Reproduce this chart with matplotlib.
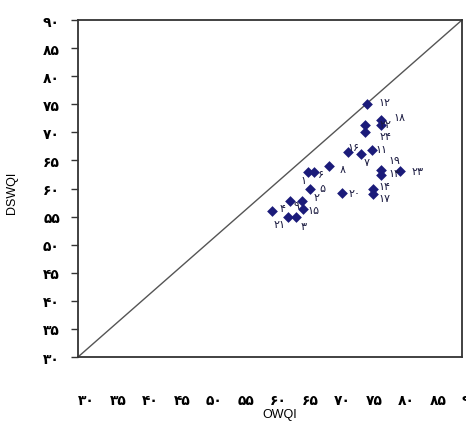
import matplotlib
matplotlib.use("Agg")
import matplotlib.pyplot as plt
import matplotlib.transforms as mtransforms

# Data (OWQI vs DSWQI)
station_labels = ["۱۲", "۱۸", "۲۲", "۲۴", "۱۶", "۷", "۱۱", "۸", "۱", "۶",
                  "۵", "۲", "۹", "۴", "۱۵", "۲۱", "۳", "۲۰", "۱۴", "۱۷",
                  "۱۹", "۱۳", "۲۳", ""]
owqi = [75.2, 77.3, 74.8, 74.8, 72.2, 74.2, 75.9, 69.2, 65.9, 66.9,
        66.2, 65.0, 63.1, 60.3, 65.2, 62.8, 64.1, 71.2, 76.1, 76.1,
        77.3, 77.3, 80.3, 77.3]
dswqi = [75.0, 72.2, 71.3, 70.1, 66.5, 66.1, 66.9, 64.0, 62.9, 62.9,
         59.9, 57.8, 57.8, 56.0, 56.4, 54.9, 54.9, 59.2, 59.9, 59.0,
         63.3, 62.4, 63.1, 71.3]
# label offsets in pixels (style only)
label_dx = [17, 19, 21, 21, 5, 6, 10, 14, -4, 7, 13, 15, 7, 11, 10, -8, 7, 13, 11, 11, 14, 14, 18, 0]
label_dy = [2, 3, 1, -4, 5, -8, 1, -3, -8, -2, 1, 4, -4, 3, -1, -7, -9, 0, 3, -4, 10, 2, 0, 0]

ticks = list(range(30, 95, 5))
fa_digits = str.maketrans("0123456789", "۰۱۲۳۴۵۶۷۸۹")
tick_labels = [str(t).translate(fa_digits) for t in ticks]

W, H = 466, 427
fig = plt.figure(figsize=(W / 100, H / 100), dpi=100)
ax = fig.add_axes([78 / W, 1 - 358 / H, (462 - 78) / W, (358 - 21) / H])

ax.plot([30, 90], [30, 90], color="#555555", lw=1.0, zorder=1)
ax.scatter(owqi, dswqi, marker="D", s=30, color="#1b1b7a", zorder=3, linewidths=0)

for lab, x, y, dx, dy in zip(station_labels, owqi, dswqi, label_dx, label_dy):
    if lab:
        ax.annotate(lab, (x, y), xytext=(dx, dy), textcoords="offset pixels",
                    ha="center", va="center", fontsize=8, color="#1a1a40",
                    family=["DejaVu Sans"])

ax.set_xlim(30, 90)
ax.set_ylim(30, 90)
ax.set_xticks(ticks)
ax.set_yticks(ticks)
ax.set_xticklabels(tick_labels, fontsize=10, fontweight="bold", family=["DejaVu Sans"])
ax.set_yticklabels(tick_labels, fontsize=10, fontweight="bold", family=["DejaVu Sans"])
ax.tick_params(axis="x", length=0, pad=26)
ax.tick_params(axis="y", length=5, width=1, direction="out", pad=8, color="#333333")

offset = mtransforms.ScaledTranslation(8 / 100, 0, fig.dpi_scale_trans)
for lbl in ax.get_xticklabels():
    lbl.set_transform(lbl.get_transform() + offset)

for sp in ax.spines.values():
    sp.set_linewidth(1.3)
    sp.set_color("#333333")

ax.set_xlabel("OWQI", fontsize=9, family=["Liberation Sans"])
ax.xaxis.set_label_coords((280 - 78) / (462 - 78), -(409 - 358) / (358 - 21))
ax.set_ylabel("DSWQI", fontsize=9, family=["Liberation Sans"])
ax.yaxis.set_label_coords(-(78 - 18) / (462 - 78), 0.49)

fig.savefig("out.png", dpi=100)
